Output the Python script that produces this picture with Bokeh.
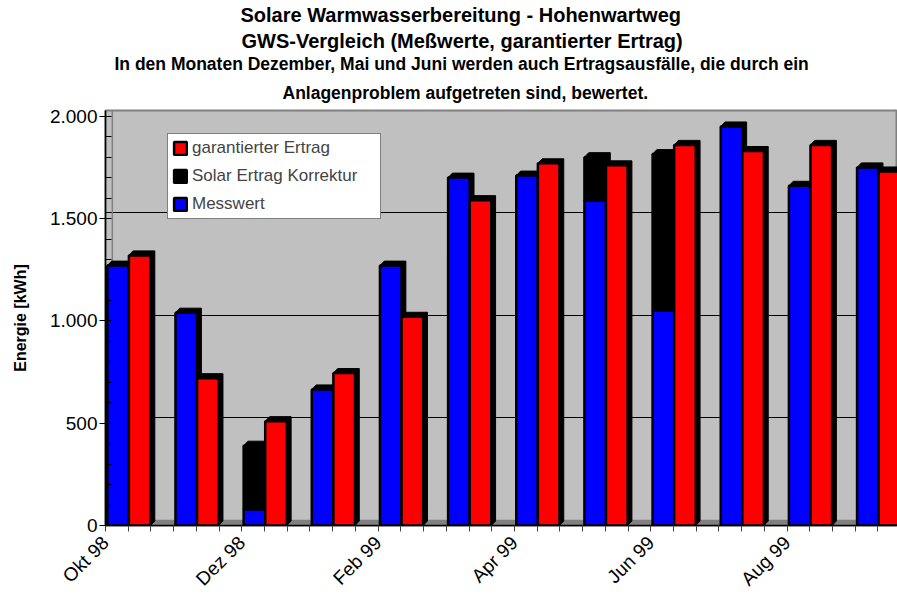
import math
from bokeh.plotting import figure
from bokeh.models import (ColumnDataSource, FixedTicker, Title, Legend, LegendItem,
                          BoxAnnotation, Span, Range1d)
from bokeh.embed import file_html
from bokeh.resources import INLINE

# ---------------- data ----------------
months = ["Okt 98", "Nov 98", "Dez 98", "Jan 99", "Feb 99", "Mär 99",
          "Apr 99", "Mai 99", "Jun 99", "Jul 99", "Aug 99", "Sep 99"]
messwert = [1270, 1040, 80, 665, 1270, 1700, 1710, 1590, 1050, 1950, 1660, 1750]
korrektur = [0, 0, 310, 0, 0, 0, 0, 210, 765, 0, 0, 0]
garantiert = [1320, 720, 510, 745, 1020, 1590, 1770, 1760, 1860, 1830, 1860, 1730]
shown_month_labels = ["Okt 98", "Dez 98", "Feb 99", "Apr 99", "Jun 99", "Aug 99"]
y_ticks = [0, 500, 1000, 1500, 2000]
y_tick_labels = ["0", "500", "1.000", "1.500", "2.000"]

title_lines = ["Solare Warmwasserbereitung - Hohenwartweg",
               "GWS-Vergleich (Meßwerte, garantierter Ertrag)",
               "In den Monaten Dezember, Mai und Juni werden auch Ertragsausfälle, die durch ein",
               "Anlagenproblem aufgetreten sind, bewertet."]

# ---------------- styling / geometry constants ----------------
FONT = "Liberation Sans"
SLOTS = 3            # slots per month: Messwert, garantiert, gap
BAR_OFF = 0.08
BAR_W = 0.95
DX = 0.19            # 3D depth (x, slot units)
DY = 22              # 3D depth (y, kWh)
WALL_DX = 0.3
WALL_DY = 28

n = len(months)
base = [SLOTS * i for i in range(n)]

blue_l = [b + BAR_OFF for b in base]
blue_r = [l + BAR_W for l in blue_l]
red_l = [r for r in blue_r]
red_r = [l + BAR_W for l in red_l]
stack_top = [m + k for m, k in zip(messwert, korrektur)]

blue_src = ColumnDataSource(dict(left=blue_l, right=blue_r, top=messwert, bottom=[0] * n))
red_src = ColumnDataSource(dict(left=red_l, right=red_r, top=garantiert, bottom=[0] * n))
ki = [i for i in range(n) if korrektur[i] > 0]
korr_src = ColumnDataSource(dict(left=[blue_l[i] for i in ki], right=[blue_r[i] for i in ki],
                                 bottom=[messwert[i] for i in ki], top=[stack_top[i] for i in ki]))


def hexes(lefts, rights, tops):
    xs, ys = [], []
    for l, r, t in zip(lefts, rights, tops):
        xs.append([l, l, l + DX, r + DX, r + DX, r])
        ys.append([0, t, t + DY, t + DY, DY, 0])
    return xs, ys


bx, by = hexes(blue_l, blue_r, stack_top)
rx, ry = hexes(red_l, red_r, garantiert)
shadow_src = ColumnDataSource(dict(xs=bx + rx, ys=by + ry))

# ---------------- figure ----------------
p = figure(width=897, height=599, output_backend="svg", toolbar_location=None,
           x_range=Range1d(0, 34.86), y_range=Range1d(0, 2000 + WALL_DY),
           min_border_left=105, min_border_right=0, min_border_top=108, min_border_bottom=60,
           background_fill_color="#C0C0C0", border_fill_color="white",
           outline_line_color="#808080", outline_line_width=2)

# floor and left wall
p.add_layout(BoxAnnotation(bottom=0, top=WALL_DY, fill_color="#808080", fill_alpha=1,
                           line_color=None, level="underlay"))
p.add_layout(Span(location=WALL_DX, dimension="height", line_color="#808080",
                  line_width=1.5, level="underlay"))

p.patches("xs", "ys", source=shadow_src, fill_color="black", line_color="black", line_width=1)
r_blue = p.quad(left="left", right="right", top="top", bottom="bottom", source=blue_src,
                fill_color="#0000FF", line_color="black", line_width=2.5)
r_korr = p.quad(left="left", right="right", top="top", bottom="bottom", source=korr_src,
                fill_color="black", line_color="black", line_width=2.5)
r_red = p.quad(left="left", right="right", top="top", bottom="bottom", source=red_src,
               fill_color="#FF0000", line_color="black", line_width=2.5)

# grid on the back wall
p.xgrid.visible = False
p.ygrid.ticker = FixedTicker(ticks=[t + WALL_DY for t in y_ticks[1:-1]])
p.ygrid.grid_line_color = "black"
p.ygrid.grid_line_width = 1

# x axis
xa = p.xaxis[0]
xa.ticker = FixedTicker(ticks=list(range(0, SLOTS * n + 1)))
overrides = {t: "" for t in range(0, SLOTS * n + 1)}
for i, m in enumerate(months):
    if m in shown_month_labels:
        overrides[SLOTS * i] = m
xa.major_label_overrides = overrides
xa.major_label_orientation = math.pi / 4
xa.major_label_text_font = FONT
xa.major_label_text_font_size = "19px"
xa.major_label_text_color = "black"
xa.major_tick_out = 6
xa.major_tick_in = 0
xa.major_tick_line_color = "#404040"
xa.minor_tick_line_color = None
xa.axis_line_color = "black"
xa.axis_line_width = 1.5
xa.major_label_standoff = 8

# y axis
ya = p.yaxis[0]
ya.ticker = FixedTicker(ticks=y_ticks, minor_ticks=list(range(0, 2001, 100)))
ya.major_label_overrides = dict(zip(y_ticks, y_tick_labels))
ya.major_label_text_font = FONT
ya.major_label_text_font_size = "19px"
ya.major_label_text_color = "black"
ya.major_tick_out = 6
ya.major_tick_in = 0
ya.minor_tick_in = 6
ya.minor_tick_out = 0
ya.major_tick_line_color = "black"
ya.minor_tick_line_color = "black"
ya.axis_line_color = "black"
ya.axis_line_width = 1.5
ya.axis_label = "Energie [kWh]"
ya.axis_label_text_font = FONT
ya.axis_label_text_font_style = "bold"
ya.axis_label_text_font_size = "16px"
ya.axis_label_text_color = "black"
ya.axis_label_standoff = 18
ya.major_label_standoff = 2

# legend
legend = Legend(items=[LegendItem(label="garantierter Ertrag", renderers=[r_red]),
                       LegendItem(label="Solar Ertrag Korrektur", renderers=[r_korr]),
                       LegendItem(label="Messwert", renderers=[r_blue])],
                location=(62, 306), label_text_font=FONT, label_text_font_size="17px",
                glyph_width=16, glyph_height=16, label_height=20, label_width=184,
                spacing=8, padding=4,
                label_standoff=4, margin=0, border_line_color="black", border_line_width=1,
                background_fill_color="white", background_fill_alpha=1)
p.add_layout(legend)

# titles (added from the plot outward)
sizes = ["20px", "20px", "17.5px", "17.5px"]
offsets = [135, 136, 9, 177]
standoffs = [3, 0, 0, 15]
for text, size, off, st in reversed(list(zip(title_lines, sizes, offsets, standoffs))):
    p.add_layout(Title(text=text, align="left", offset=off, standoff=st,
                       text_font=FONT, text_font_size=size, text_font_style="bold",
                       text_color="black"), "above")

open("out.html", "w").write(file_html(p, INLINE))
